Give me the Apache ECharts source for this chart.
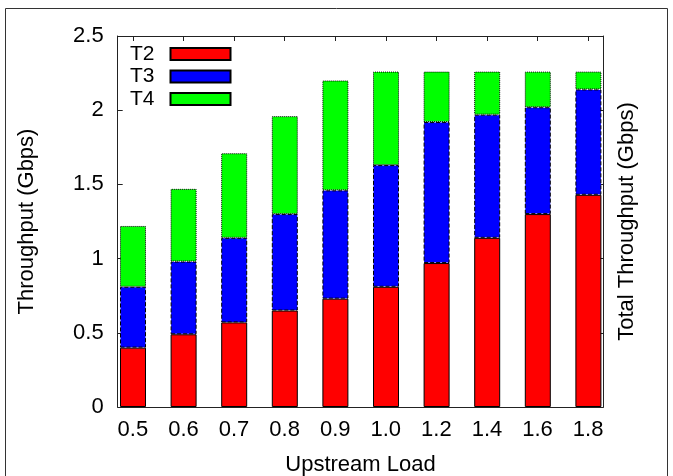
<!DOCTYPE html>
<html>
<head>
<meta charset="utf-8">
<script src="https://cdn.jsdelivr.net/npm/echarts@6/dist/echarts.min.js"></script>
<style>html,body{margin:0;padding:0;background:#fff;}#c{width:673px;height:476px;}</style>
</head>
<body>
<div id="c"></div>
<script>
const categories = ['0.5','0.6','0.7','0.8','0.9','1.0','1.2','1.4','1.6','1.8'];
const t2 = [0.40, 0.49, 0.57, 0.65, 0.73, 0.81, 0.97, 1.14, 1.30, 1.43];
const t3 = [0.41, 0.49, 0.57, 0.65, 0.73, 0.82, 0.95, 0.83, 0.72, 0.71];
const t4 = [0.41, 0.49, 0.57, 0.66, 0.74, 0.63, 0.34, 0.29, 0.24, 0.12];
const yTicks = [0, 0.5, 1, 1.5, 2, 2.5];

const idx = categories.map((_, i) => i);
const font = 'Liberation Sans, Arial, Helvetica, sans-serif';

const chart = echarts.init(document.getElementById('c'), null, {renderer: 'canvas'});
const axisLine = {show: true, onZero: false, lineStyle: {color: '#222', width: 1}};
const tick = {show: true, inside: true, length: 5, lineStyle: {color: '#222'}};
const option = {
  backgroundColor: '#fff',
  animation: false,
  textStyle: {fontFamily: font},
  graphic: [{
    type: 'rect', shape: {x: 5.5, y: 8.5, width: 662, height: 480},
    style: {fill: 'none', stroke: '#333', lineWidth: 1}, silent: true, z: -1
  }],
  grid: [
    // bar grid: bands of the category axis line up with the frame's -0.3..9.3 range
    {left: 107.7, right: 59.3, top: 36, bottom: 69, containLabel: false, outerBoundsMode: 'none'},
    // frame grid
    {left: 117.7, right: 69.7, top: 36, bottom: 69, containLabel: false, outerBoundsMode: 'none'}
  ],
  legend: {
    orient: 'vertical', left: 125, top: 38.5, align: 'right', icon: 'rect',
    itemWidth: 60, itemHeight: 12, itemGap: 1.5,
    textStyle: {fontSize: 21, color: '#000', fontFamily: font, padding: [0, 11, 0, 0]},
    data: ['T2', 'T3', 'T4']
  },
  xAxis: [{
    gridIndex: 0, type: 'category', data: categories, show: false
  }, {
    gridIndex: 1, type: 'value', min: -0.3, max: 9.3, position: 'bottom',
    name: 'Upstream Load', nameLocation: 'middle', nameGap: 47,
    nameTextStyle: {fontSize: 22, color: '#000', fontFamily: font},
    axisLine: axisLine,
    axisTick: Object.assign({customValues: idx}, tick),
    axisLabel: {show: true, customValues: idx, fontSize: 22, color: '#000', margin: 12, fontFamily: font,
      formatter: v => categories[Math.round(v)] || ''},
    splitLine: {show: false}
  }, {
    gridIndex: 1, type: 'value', min: -0.3, max: 9.3, position: 'top',
    axisLine: axisLine,
    axisTick: Object.assign({customValues: idx}, tick),
    axisLabel: {show: false},
    splitLine: {show: false}
  }],
  yAxis: [{
    gridIndex: 0, type: 'value', min: 0, max: 2.5, show: false
  }, {
    gridIndex: 1, type: 'value', min: 0, max: 2.5, interval: 0.5, position: 'left',
    name: 'Throughput (Gbps)', nameLocation: 'middle', nameGap: 80, nameRotate: 90,
    nameTextStyle: {fontSize: 22, color: '#000', fontFamily: font},
    axisLine: axisLine,
    axisTick: tick,
    axisLabel: {fontSize: 22, color: '#000', margin: 14, fontFamily: font,
      formatter: v => String(yTicks.find(t => Math.abs(t - v) < 1e-6) ?? v)},
    splitLine: {show: false}
  }, {
    gridIndex: 1, type: 'value', min: 0, max: 2.5, interval: 0.5, position: 'right',
    name: 'Total Throughput (Gbps)', nameLocation: 'middle', nameGap: 13, nameRotate: 90,
    nameTextStyle: {fontSize: 22, color: '#000', fontFamily: font, verticalAlign: 'top'},
    axisLine: axisLine,
    axisTick: tick,
    axisLabel: {show: false},
    splitLine: {show: false}
  }],
  series: [
    {name: 'T2', type: 'bar', stack: 'total', barWidth: 26, xAxisIndex: 0, yAxisIndex: 0, data: t2,
      itemStyle: {color: '#ff0000', borderColor: '#000', borderWidth: 1, borderType: 'solid'}},
    {name: 'T3', type: 'bar', stack: 'total', barWidth: 26, xAxisIndex: 0, yAxisIndex: 0, data: t3,
      itemStyle: {color: '#0000ff', borderColor: '#000', borderWidth: 1, borderType: 'dashed'}},
    {name: 'T4', type: 'bar', stack: 'total', barWidth: 26, xAxisIndex: 0, yAxisIndex: 0, data: t4,
      itemStyle: {color: '#00ff00', borderColor: '#000', borderWidth: 1, borderType: 'dotted'}}
  ]
};
chart.setOption(option);
</script>
</body>
</html>
